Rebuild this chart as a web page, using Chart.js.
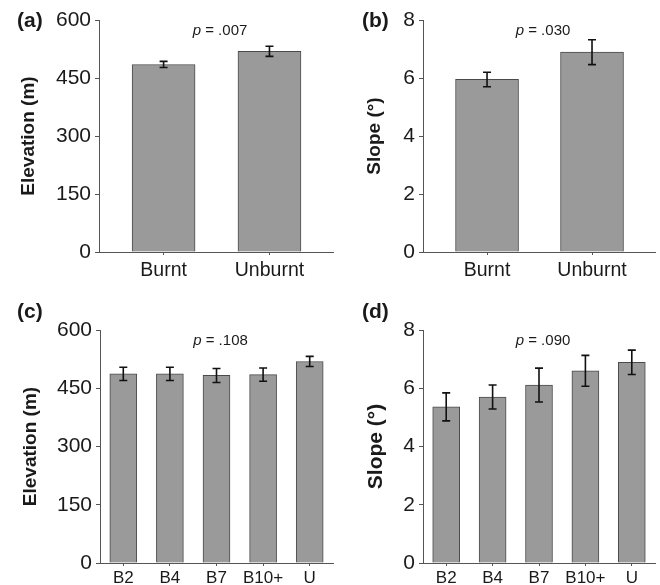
<!DOCTYPE html>
<html>
<head>
<meta charset="utf-8">
<script src="https://cdn.jsdelivr.net/npm/chart.js@4"></script>
<style>
  body { margin: 0; background: #fff; }
  #wrap { position: relative; width: 660px; height: 585px; }
  canvas { position: absolute; }
</style>
</head>
<body>
<div id="wrap">
  <canvas id="a" width="340" height="290" style="left:0;top:0"></canvas>
  <canvas id="b" width="330" height="290" style="left:330px;top:0"></canvas>
  <canvas id="c" width="340" height="295" style="left:0;top:290px"></canvas>
  <canvas id="d" width="330" height="295" style="left:330px;top:290px"></canvas>
</div>
<script>
// burnt vs unburnt
var fireLabels = ["Burnt", "Unburnt"];
var fireElev = [485, 519];
var fireElevErr = [8, 13];
var fireSlope = [5.95, 6.89];
var fireSlopeErr = [0.25, 0.43];

// by time since fire
var ageLabels = ["B2", "B4", "B7", "B10+", "U"];
var ageElev = [487, 487, 483, 485, 519];
var ageElevErr = [17, 17, 18, 17, 13];
var ageSlope = [5.36, 5.70, 6.11, 6.60, 6.89];
var ageSlopeErr = [0.48, 0.41, 0.58, 0.53, 0.42];

var elevTicks = [0, 150, 300, 450, 600];
var slopeTicks = [0, 2, 4, 6, 8];
var pValues = [".007", ".030", ".108", ".090"];

var FONT = "'Liberation Sans', Arial, sans-serif";
var AXIS = '#555';
var TXT = '#1a1a1a';

var errorBars = {
  id: 'errorBars',
  afterDatasetsDraw: function(chart, args, opts) {
    var ctx = chart.ctx, y = chart.scales.y;
    var meta = chart.getDatasetMeta(0);
    ctx.save();
    ctx.strokeStyle = '#111';
    ctx.lineWidth = 1.6;
    meta.data.forEach(function(bar, i) {
      var v = meta._parsed[i].y, e = opts.errors[i];
      var t = y.getPixelForValue(v + e), b = y.getPixelForValue(v - e);
      ctx.beginPath();
      ctx.moveTo(bar.x, t); ctx.lineTo(bar.x, b);
      ctx.moveTo(bar.x - 4, t); ctx.lineTo(bar.x + 4, t);
      ctx.moveTo(bar.x - 4, b); ctx.lineTo(bar.x + 4, b);
      ctx.stroke();
    });
    ctx.restore();
  }
};

var panelText = {
  id: 'panelText',
  afterDraw: function(chart, args, opts) {
    var ctx = chart.ctx, area = chart.chartArea;
    ctx.save();
    ctx.fillStyle = TXT;
    ctx.textBaseline = 'middle';
    ctx.font = 'bold 21px ' + FONT;
    ctx.fillText(opts.letter, opts.lx, opts.ly);
    // p value, italic p
    ctx.font = 'italic 15px ' + FONT;
    var w1 = ctx.measureText('p').width;
    ctx.font = '15px ' + FONT;
    var rest = ' = ' + opts.p;
    var w2 = ctx.measureText(rest).width;
    var x0 = (area.left + area.right) / 2 + 4 - (w1 + w2) / 2;
    var py = area.top + 11;
    ctx.font = 'italic 15px ' + FONT;
    ctx.fillText('p', x0, py);
    ctx.font = '15px ' + FONT;
    ctx.fillText(rest, x0 + w1, py);
    ctx.restore();
  }
};

function makePanel(id, cfg) {
  var twoBars = cfg.labels.length === 2;
  var data = twoBars
    ? cfg.values.map(function(v, i) { return { x: i + 1, y: v }; })
    : cfg.values;
  var xScale = {
    grid: { display: true, drawOnChartArea: false, offset: false, tickLength: 3, color: AXIS },
    border: { display: true, color: AXIS, width: 1 },
    ticks: { color: TXT, padding: cfg.xPad, font: { family: FONT, size: cfg.xFont }, maxRotation: 0, autoSkip: false },
    afterFit: function(s) { s.height = cfg.xh; }
  };
  if (twoBars) {
    xScale.type = 'linear';
    xScale.min = 0.39;
    xScale.max = 2.6;
    xScale.offset = false;
    xScale.afterBuildTicks = function(s) {
      s.ticks = cfg.labels.map(function(l, i) { return { value: i + 1 }; });
    };
    xScale.ticks.callback = function(v) { return cfg.labels[v - 1]; };
  } else {
    xScale.offset = true;
  }
  new Chart(document.getElementById(id), {
    type: 'bar',
    data: {
      labels: twoBars ? undefined : cfg.labels,
      datasets: [{
        data: data,
        backgroundColor: '#9a9a9a',
        borderColor: '#4a4a4a',
        borderWidth: 1,
        barThickness: cfg.barW
      }]
    },
    options: {
      responsive: false,
      animation: false,
      layout: { padding: { top: cfg.top, right: cfg.right, left: 0, bottom: 0 } },
      scales: {
        x: xScale,
        y: {
          min: cfg.ticks[0],
          max: cfg.ticks[cfg.ticks.length - 1],
          afterBuildTicks: function(s) { s.ticks = cfg.ticks.map(function(v) { return { value: v }; }); },
          grid: { display: true, drawOnChartArea: false, tickLength: 4, color: AXIS },
          border: { display: true, color: AXIS, width: 1 },
          ticks: { color: TXT, padding: 4, font: { family: FONT, size: 21 } },
          title: {
            display: true,
            text: cfg.title,
            color: TXT,
            font: { family: FONT, size: cfg.titleFont, weight: 'bold' },
            padding: { top: cfg.titlePad, bottom: 0 }
          },
          afterFit: function(s) { s.width = cfg.yw; }
        }
      },
      plugins: {
        legend: { display: false },
        tooltip: { enabled: false },
        errorBars: { errors: cfg.errors },
        panelText: { letter: cfg.letter, lx: cfg.lx, ly: cfg.ly, p: cfg.p }
      }
    },
    plugins: [errorBars, panelText]
  });
}

makePanel('a', {
  labels: fireLabels, values: fireElev, errors: fireElevErr, ticks: elevTicks,
  title: 'Elevation (m)', titleFont: 19, titlePad: 17, letter: '(a)', lx: 17, ly: 21, p: pValues[0],
  top: 20, right: 7, yw: 99, xh: 38, xFont: 19.5, xPad: 4, barW: 63
});
makePanel('b', {
  labels: fireLabels, values: fireSlope, errors: fireSlopeErr, ticks: slopeTicks,
  title: 'Slope (°)', titleFont: 19, titlePad: 33, letter: '(b)', lx: 32, ly: 21, p: pValues[1],
  top: 20, right: 5, yw: 93, xh: 38, xFont: 19.5, xPad: 4, barW: 63
});
makePanel('c', {
  labels: ageLabels, values: ageElev, errors: ageElevErr, ticks: elevTicks,
  title: 'Elevation (m)', titleFont: 19, titlePad: 19, letter: '(c)', lx: 17, ly: 22, p: pValues[2],
  top: 40, right: 7, yw: 100, xh: 22, xFont: 17, xPad: 2, barW: 27
});
makePanel('d', {
  labels: ageLabels, values: ageSlope, errors: ageSlopeErr, ticks: slopeTicks,
  title: 'Slope (°)', titleFont: 21, titlePad: 34, letter: '(d)', lx: 32, ly: 22, p: pValues[3],
  top: 40, right: 5, yw: 93, xh: 22, xFont: 17, xPad: 2, barW: 27
});
</script>
</body>
</html>
